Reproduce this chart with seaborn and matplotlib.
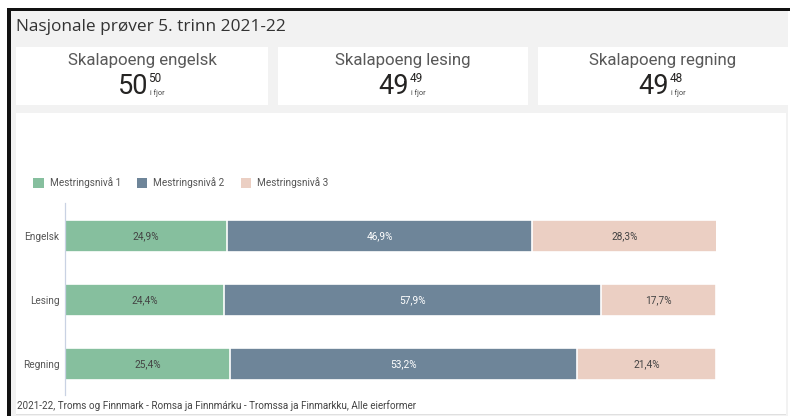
import matplotlib
matplotlib.use("Agg")
import matplotlib.pyplot as plt
from matplotlib.patches import Rectangle
import seaborn as sns
import pandas as pd

# ---- data ----
subjects = ["Engelsk", "Lesing", "Regning"]
niva1 = [24.9, 24.4, 25.4]
niva2 = [46.9, 57.9, 53.2]
niva3 = [28.3, 17.7, 21.4]
series_names = ["Mestringsnivå 1", "Mestringsnivå 2", "Mestringsnivå 3"]
card_titles = ["Skalapoeng engelsk", "Skalapoeng lesing", "Skalapoeng regning"]
card_values = ["50", "49", "49"]
card_last_year = ["50", "49", "48"]
title = "Nasjonale prøver 5. trinn 2021-22"
footer = "2021-22, Troms og Finnmark - Romsa ja Finnmárku - Tromssa ja Finmarkku, Alle eierformer"

colors = ["#86bf9e", "#6e8599", "#ebcfc3"]
W, H = 790, 416

sns.set_theme(style="white")
plt.rcParams["font.family"] = ["Roboto", "DejaVu Sans"]

fig = plt.figure(figsize=(W / 100, H / 100), dpi=100)
fig.patch.set_facecolor("white")

def fx(px):
    return px / W

def fy(py):
    return 1 - py / H

def rect(x0, y0, x1, y1, color, z=0):
    fig.patches.append(Rectangle((fx(x0), fy(y1)), fx(x1) - fx(x0), fy(y0) - fy(y1),
                                 transform=fig.transFigure, facecolor=color,
                                 edgecolor="none", zorder=z))

# background panel and borders
rect(9, 10, 790, 416, "#f2f2f2", 0)
rect(7, 8, 790, 11, "#111111", 1)
rect(7, 8, 11, 416, "#111111", 1)
rect(788, 11, 790, 416, "#ffffff", 1)

# title
fig.text(fx(16), fy(27), title, fontsize=12.4, color="#333333",
         family=["Open Sans", "DejaVu Sans"], va="center", ha="left")

# cards
cards = [(16, 268), (278, 528), (538, 788)]
for (x0, x1), t, v, ly in zip(cards, card_titles, card_values, card_last_year):
    rect(x0, 47, x1, 105, "white", 1)
    cx = (x0 + x1) / 2
    fig.text(fx(cx), fy(61), t, fontsize=12.2, color="#595959", ha="center", va="center")
    fig.text(fx(cx + 6), fy(86), v, fontsize=19.5, color="#252423", ha="right", va="center")
    fig.text(fx(cx + 6.5), fy(79), ly, fontsize=8.5, color="#252423", ha="left", va="center")
    fig.text(fx(cx + 8), fy(93.5), "i fjor", fontsize=5.2, color="#444444", ha="left", va="center")

# chart panel
rect(16, 113, 786, 414, "white", 1)
rect(16, 414, 786, 415, "#e0e0e0", 1)

# chart axes
ax = fig.add_axes([fx(65), fy(395), fx(716) - fx(65), fy(203) - fy(395)])
ax.set_facecolor("none")
ax.set_zorder(5)

df = pd.DataFrame({"subject": subjects, "n1": niva1, "n2": niva2, "n3": niva3})
df["c1"] = df["n1"]
df["c2"] = df["n1"] + df["n2"]
df["c3"] = df["n1"] + df["n2"] + df["n3"]

for col, c in zip(["c3", "c2", "c1"], [colors[2], colors[1], colors[0]]):
    sns.barplot(data=df, x=col, y="subject", color=c, orient="h", width=0.5,
                edgecolor="white", linewidth=1.2, ax=ax, saturation=1)

for i, row in df.iterrows():
    starts = [0, row["c1"], row["c2"]]
    vals = [row["n1"], row["n2"], row["n3"]]
    tcols = ["#444444", "#ffffff", "#444444"]
    for s, v, tc in zip(starts, vals, tcols):
        ax.text(s + v / 2, i, f"{v:.1f}%".replace(".", ","), ha="center", va="center",
                fontsize=7.3, color=tc)

ax.set_xlim(0, 100)
ax.set_ylim(2.48, -0.52)
ax.set_xlabel("")
ax.set_ylabel("")
ax.set_xticks([])
ax.tick_params(axis="y", length=0, pad=4, labelsize=7.2, labelcolor="#555555")
for s in ["top", "right", "bottom"]:
    ax.spines[s].set_visible(False)
ax.spines["left"].set_color("#c9d2e3")
ax.spines["left"].set_linewidth(0.9)

# legend
handles = [Rectangle((0, 0), 1, 1, facecolor=c, edgecolor="none") for c in colors]
fig.legend(handles, series_names, loc="center left", bbox_to_anchor=(fx(30), fy(183)),
           ncol=3, frameon=False, fontsize=7.2, handlelength=1.05, handleheight=1.05,
           handletextpad=0.6, columnspacing=1.6, labelcolor="#555555",
           borderaxespad=0, borderpad=0.3)

# footer
fig.text(fx(17), fy(406), footer, fontsize=7.1, color="#444444", ha="left", va="center")

fig.savefig("out.png", dpi=100)
